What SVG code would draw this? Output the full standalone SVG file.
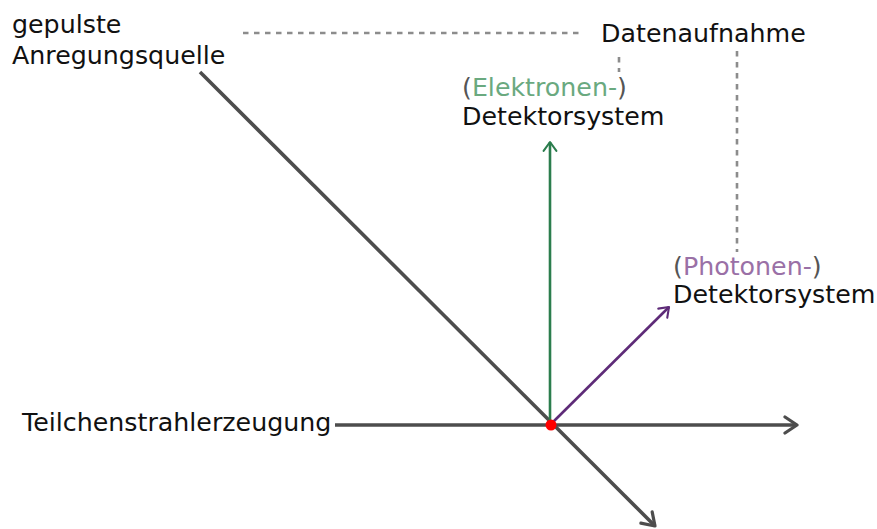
<svg xmlns="http://www.w3.org/2000/svg" width="877" height="529" viewBox="0 0 877 529">
<defs>
<style>
text{font-family:"DejaVu Sans","Liberation Sans",sans-serif;font-size:25.3px;fill:#111}
.beam{stroke:#4d4d4d;stroke-width:3.6;fill:none}
.dash{stroke:#8c8c8c;stroke-width:2.6;stroke-dasharray:5.5 5.5;fill:none}
.g{fill:#6aa97f}.p{fill:#9a70a6}.par{fill:#555}
</style>
<marker id="ah" viewBox="0 0 20 20" refX="17" refY="10" markerWidth="20" markerHeight="20" markerUnits="userSpaceOnUse" orient="auto">
<path d="M5,2 L17,10 L5,18" fill="none" stroke="context-stroke" stroke-width="3.2" stroke-linecap="round" stroke-linejoin="round"/>
</marker>
<marker id="ahs" viewBox="0 0 20 20" refX="17" refY="10" markerWidth="16" markerHeight="16" markerUnits="userSpaceOnUse" orient="auto">
<path d="M6,2 L17,10 L6,18" fill="none" stroke="context-stroke" stroke-width="2.6" stroke-linecap="round" stroke-linejoin="round"/>
</marker>
</defs>
<g id="connectors">
<line class="dash" x1="243" y1="33" x2="582" y2="33"/>
<line class="dash" x1="737" y1="51" x2="737" y2="252"/>
<line class="dash" x1="619" y1="57" x2="619" y2="72"/>
<line class="beam" x1="200" y1="72" x2="655" y2="526" marker-end="url(#ah)"/>
<line class="beam" x1="335" y1="425" x2="797" y2="425" marker-end="url(#ah)"/>
<line x1="550" y1="425" x2="550" y2="142" stroke="#2b7d4d" stroke-width="2.6" marker-end="url(#ahs)"/>
<line x1="550" y1="425" x2="669" y2="307" stroke="#5e2b78" stroke-width="2.6" marker-end="url(#ahs)"/>
</g>
<g id="source"><text x="12" y="33">gepulste</text><text x="12" y="64">Anregungsquelle</text></g>
<g id="daq"><text x="601" y="42">Datenaufnahme</text></g>
<g id="edet"><text x="462" y="96"><tspan class="par">(</tspan><tspan class="g">Elektronen-</tspan><tspan class="par">)</tspan></text><text x="462" y="125">Detektorsystem</text></g>
<g id="pdet"><text x="673" y="275"><tspan class="par">(</tspan><tspan class="p">Photonen-</tspan><tspan class="par">)</tspan></text><text x="673" y="303">Detektorsystem</text></g>
<g id="beamsrc"><text x="22" y="431">Teilchenstrahlerzeugung</text></g>
<g id="target"><circle cx="551" cy="425" r="5.5" fill="#ff0000"/></g>
</svg>
